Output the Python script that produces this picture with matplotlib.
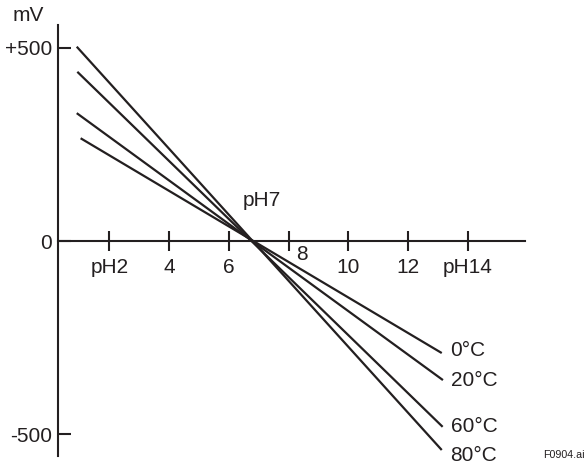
import matplotlib
matplotlib.use("Agg")
from matplotlib import pyplot as plt

plt.rcParams['font.family'] = ['Liberation Sans', 'DejaVu Sans']

# data: each temperature line from its left end to its right end
temps = ['0°C', '20°C', '60°C', '80°C']
ph_start = [1.04, 0.91, 0.93, 0.91]
mv_start = [266, 331, 438, 503]
ph_end = [13.13, 13.17, 13.16, 13.13]
mv_end = [-290, -360, -481, -541]

x_ticks = [2, 4, 6, 8, 10, 12, 14]
x_labels = ['pH2', '4', '6', '', '10', '12', 'pH14']
y_ticks = [-500, 0, 500]
y_labels = ['-500', '0', '+500']

ink = '#231f20'
fs = 15

fig = plt.figure(figsize=(5.88, 4.66), dpi=100)
ax = fig.add_axes([0, 0, 1, 1])
ax.set_xlim(-1.659, 18.026)
ax.set_ylim(-582.4, 623.9)
ax.patch.set_visible(False)

label_dy = [1.5, 0, 0, -4]
for t, x0, y0, x1, y1, dy in zip(temps, ph_start, mv_start, ph_end, mv_end, label_dy):
    ax.plot([x0, x1], [y0, y1], color=ink, lw=1.6, solid_capstyle='butt')
    ax.annotate(t, (x1, y1), xytext=(6, dy), textcoords='offset points',
                fontsize=fs, color=ink, va='center', ha='left')

# axes drawn as a cross
ax.spines['top'].set_visible(False)
ax.spines['right'].set_visible(False)
ax.spines['left'].set_position(('data', 0.273))
ax.spines['bottom'].set_position(('data', 0))
ax.spines['left'].set_bounds(-557, 559)
ax.spines['bottom'].set_bounds(0.273, 15.92)
for s in ['left', 'bottom']:
    ax.spines[s].set_linewidth(1.5)
    ax.spines[s].set_color(ink)

ax.set_xticks(x_ticks, x_labels)
ax.set_yticks(y_ticks, y_labels)
ax.tick_params(axis='x', direction='inout', length=14.5, width=1.5, color=ink,
               labelsize=fs, labelcolor=ink, pad=5)
ax.tick_params(axis='y', direction='in', length=9.5, width=1.5, color=ink,
               labelsize=fs, labelcolor=ink, pad=4)

ax.text(8.44, -36, '8', fontsize=fs, color=ink, ha='center', va='center')
ax.text(7.11, 105, 'pH7', fontsize=fs, color=ink, ha='center', va='center')
ax.text(-0.72, 585, 'mV', fontsize=fs, color=ink, ha='center', va='center')
ax.text(0.995, 0.012, 'F0904.ai', fontsize=7.7, color=ink, ha='right',
        va='bottom', transform=fig.transFigure)

fig.savefig('out.png', dpi=100)
